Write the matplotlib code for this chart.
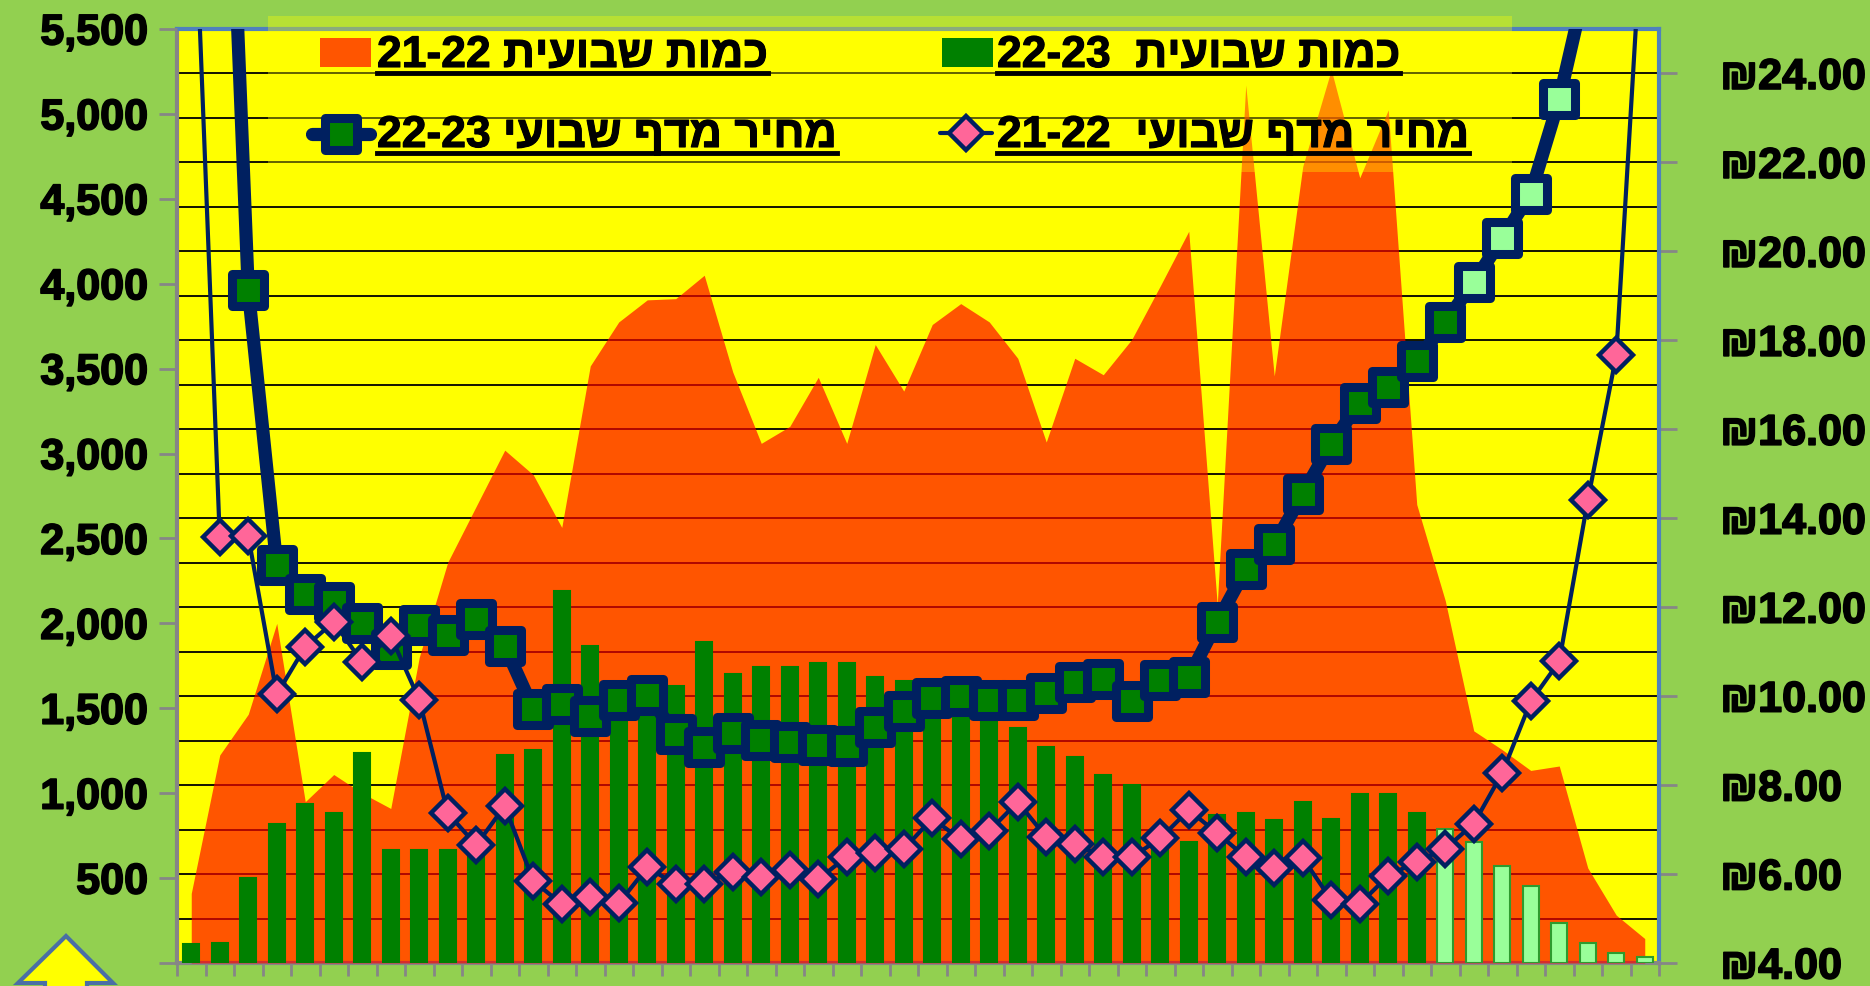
import numpy as np
import matplotlib.pyplot as plt
import matplotlib.patheffects as pe
from matplotlib.lines import Line2D
from matplotlib.patches import Rectangle, Polygon
from matplotlib.markers import MarkerStyle
from matplotlib.ticker import FuncFormatter, MultipleLocator

# --- data (52 weeks) ---
weeks = np.arange(52)

qty_2122 = [410, 1225, 1465, 2000, 950, 1110, 1000, 910, 1800, 2360, 2690, 3020,
            2875, 2565, 3516, 3775, 3905, 3912, 4050, 3480, 3060, 3160, 3449, 3060,
            3642, 3368, 3760, 3883, 3775, 3561, 3068, 3561, 3464, 3672, 3987, 4309,
            2110, 5170, 3457, 4691, 5260, 4624, 5024, 2700, 2134, 1367, 1256, 1134,
            1160, 560, 282, 144]

qty_2223 = [110, 120, 498, 820, 937, 884, 1235, 665, 665, 665, 650, 1226,
            1256, 2190, 1867, 1500, 1449, 1634, 1893, 1700, 1745, 1745, 1764, 1764,
            1682, 1660, 1560, 1480, 1420, 1382, 1271, 1215, 1108, 1049, 720, 715,
            870, 885, 845, 948, 848, 997, 997, 885, 789, 715, 571, 456,
            233, 115, 59, 33]

price_2223 = [40.0, 35.0, 19.14, 12.95, 12.30, 12.12, 11.65, 11.05, 11.59, 11.37, 11.74, 11.13,
              9.71, 9.83, 9.55, 9.92, 10.03, 9.15, 8.85, 9.17, 9.01, 8.96, 8.90, 8.88,
              9.30, 9.67, 9.96, 10.00, 9.92, 9.92, 10.08, 10.32, 10.38, 9.88, 10.36, 10.42,
              11.67, 12.85, 13.41, 14.55, 15.68, 16.60, 16.95, 17.53, 18.41, 19.31, 20.29, 21.30,
              23.42, 26.2, 28.0, 30.0]

price_2122 = [30.0, 13.57, 13.60, 10.04, 11.11, 11.67, 10.76, 11.35, 9.92, 7.37, 6.65, 7.53,
              5.85, 5.32, 5.48, 5.34, 6.15, 5.77, 5.78, 6.05, 5.94, 6.10, 5.88, 6.39,
              6.48, 6.56, 7.25, 6.78, 6.97, 7.62, 6.83, 6.68, 6.38, 6.38, 6.80, 7.44,
              6.92, 6.38, 6.14, 6.36, 5.42, 5.33, 5.96, 6.28, 6.57, 7.13, 8.27, 9.88,
              10.78, 14.40, 17.66, 28.4]

labels = ["כמות שבועית 21-22", "כמות שבועית  22-23",
          "מחיר מדף שבועי 22-23", "מחיר מדף שבועי  21-22"]

BG = "#92D050"
NAVY = "#002060"
GREEN = "#008000"
LIGHT = "#99FF99"
PINK = "#FF6699"
GRAY = "#868686"
BLUE = "#4F81BD"

W, H = 1870, 987
plt.rcParams['font.family'] = ['Liberation Sans', 'DejaVu Sans']
plt.rcParams['font.weight'] = 'bold'
heavy = [pe.withStroke(linewidth=1.2, foreground='black')]


def rtl(text):
    # crude bidi: year block ends the logical string, so it shows on the left
    heb, year = text.rsplit(' ', 1)
    return year + ' ' + heb[::-1]


def fx(px):
    return px / W


def fy(py):
    return 1 - py / H


fig = plt.figure(figsize=(W / 100, H / 100), dpi=100, facecolor=BG)
ax = fig.add_axes([fx(177), fy(964), fx(1659) - fx(177), fy(30) - fy(964)])
axq = ax.twinx()
axp = ax.twinx()

# grid axis (price scale), drawn first
ax.set_facecolor("#FFFF00")
ax.set_xlim(-0.5, 51.5)
ax.set_ylim(4, 25)
ax.yaxis.set_major_locator(MultipleLocator(2))
ax.yaxis.set_minor_locator(MultipleLocator(1))
ax.grid(which='both', axis='y', color='black', lw=1.3)
ax.set_xticks(np.arange(-0.5, 52, 1))
ax.tick_params(axis='x', length=9, width=2, color=GRAY, labelbottom=False)
ax.yaxis.tick_right()
ax.set_yticks(np.arange(4, 25, 2))
ax.yaxis.set_major_formatter(FuncFormatter(lambda v, p: "₪%.2f" % v))
ax.tick_params(axis='y', which='major', direction='out', length=13, width=2,
               color=GRAY, pad=31, labelsize=31)
ax.tick_params(axis='y', which='minor', length=0)
for lab in ax.get_yticklabels():
    lab.set_horizontalalignment('left')
    lab.set_path_effects(heavy)
ax.spines['left'].set_color(GRAY)
ax.spines['bottom'].set_color(GRAY)
ax.spines['left'].set_linewidth(3)
ax.spines['bottom'].set_linewidth(3)
ax.spines['top'].set_color(BLUE)
ax.spines['right'].set_color(BLUE)
ax.spines['top'].set_linewidth(3)
ax.spines['right'].set_linewidth(3)

# quantity axis
axq.patch.set_visible(False)
for s in axq.spines.values():
    s.set_visible(False)
axq.set_ylim(0, 5500)
axq.yaxis.tick_left()
axq.set_yticks(np.arange(0, 5501, 500))
axq.yaxis.set_major_formatter(FuncFormatter(lambda v, p: "" if v == 0 else "{:,}".format(int(v))))
axq.tick_params(axis='y', direction='out', length=13, width=2, color=GRAY, pad=8, labelsize=31)
for lab in axq.get_yticklabels():
    lab.set_path_effects(heavy)
axq.fill_between(weeks, 0, qty_2122, color='red', alpha=0.667, lw=0, zorder=1)
bar_colors = [GREEN] * 44 + [LIGHT] * 8
bar_edges = [GREEN] * 44 + ["#2E9B2E"] * 8
axq.bar(weeks, qty_2223, width=0.56, color=bar_colors, edgecolor=bar_edges, lw=1.5, zorder=2)

# price lines
axp.patch.set_visible(False)
for s in axp.spines.values():
    s.set_visible(False)
axp.set_ylim(4, 25)
axp.yaxis.set_visible(False)
sq = MarkerStyle('s', joinstyle='round')
axp.plot(weeks, price_2223, color=NAVY, lw=9.5, solid_joinstyle='round', zorder=3)
axp.plot(weeks[:45], price_2223[:45], ls='none', marker=sq, ms=23, mfc=GREEN,
         mec=NAVY, mew=6.5, zorder=4)
axp.plot(weeks[45:], price_2223[45:], ls='none', marker=sq, ms=23, mfc=LIGHT,
         mec=NAVY, mew=6.5, zorder=4)
axp.plot(weeks, price_2122, color=NAVY, lw=3, marker='D', ms=17, mfc=PINK,
         mec=NAVY, mew=3.2, zorder=5)

# legend, hand placed
fig.add_artist(Rectangle((fx(268), fy(173)), fx(1512) - fx(268), fy(17) - fy(173),
                         transform=fig.transFigure, facecolor="#FFFF00", alpha=0.34,
                         lw=0, zorder=5))
leg_font = dict(family=['Liberation Sans Narrow', 'Liberation Sans', 'DejaVu Sans'],
                fontsize=32, fontweight='bold', color='black', va='baseline', ha='left', zorder=7)
texts = []
for lab, (tx, base) in zip(labels, [(377, 68), (997, 68), (377, 148), (997, 148)]):
    t = fig.text(fx(tx), fy(base), rtl(lab), **leg_font)
    t.set_path_effects([pe.withStroke(linewidth=0.8, foreground='black')])
    texts.append((t, base))

fig.add_artist(Rectangle((fx(320), fy(68)), fx(51), fy(39) - fy(68), transform=fig.transFigure,
                         facecolor="#FF5500", lw=0, zorder=7))
fig.add_artist(Rectangle((fx(942), fy(68)), fx(51), fy(39) - fy(68), transform=fig.transFigure,
                         facecolor=GREEN, lw=0, zorder=7))
fig.add_artist(Line2D([fx(312), fx(370)], [fy(135), fy(135)], color=NAVY, lw=9.5,
                      solid_capstyle='round', zorder=7))
fig.add_artist(Line2D([fx(341)], [fy(135)], marker=sq, ms=23, mfc=GREEN, mec=NAVY,
                      mew=6.5, zorder=8))
fig.add_artist(Line2D([fx(940), fx(992)], [fy(134), fy(134)], color=NAVY, lw=3,
                      solid_capstyle='round', zorder=7))
fig.add_artist(Line2D([fx(966)], [fy(134)], marker='D', ms=17, mfc=PINK, mec=NAVY,
                      mew=3.2, zorder=8))

fig.canvas.draw()
renderer = fig.canvas.get_renderer()
for t, base in texts:
    bb = t.get_window_extent(renderer)
    yy = fy(base + 6)
    fig.add_artist(Line2D([bb.x0 / W, bb.x1 / W], [yy, yy], color='black', lw=3.5, zorder=7))

# yellow arrow bottom-left
arrow = [(66, 937), (113, 984), (87, 984), (87, 1010), (45, 1010), (45, 984), (18, 984)]
fig.add_artist(Polygon([(fx(a), fy(b)) for a, b in arrow], closed=True, transform=fig.transFigure,
                       facecolor="#FFFF00", edgecolor="#4A6FA5", lw=3, zorder=9))

fig.savefig("out.png", dpi=100, facecolor=BG)
